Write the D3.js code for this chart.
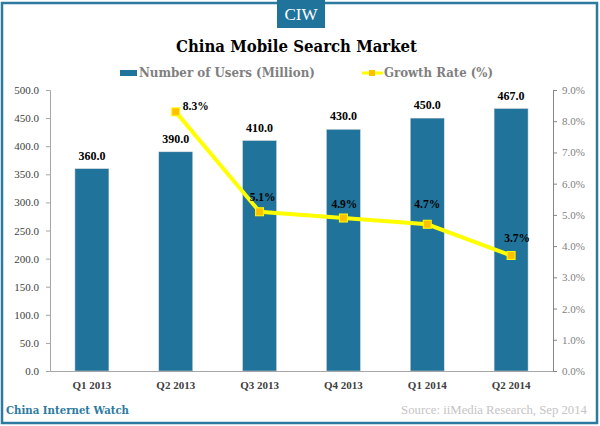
<!DOCTYPE html>
<html>
<head>
<meta charset="utf-8">
<script src="https://cdn.jsdelivr.net/npm/d3@7"></script>
<style>
  body { margin: 0; background: #fff; }
  text { font-family: "Liberation Serif", serif; }
</style>
</head>
<body>
<div id="container"></div>
<script>
/* DATA */
const quarters = ["Q1 2013", "Q2 2013", "Q3 2013", "Q4 2013", "Q1 2014", "Q2 2014"];
const users = [360, 390, 410, 430, 450, 467];
const growth = [null, 8.3, 5.1, 4.9, 4.7, 3.7];
const userTicks = [0, 50, 100, 150, 200, 250, 300, 350, 400, 450, 500];
const growthTicks = [0, 1, 2, 3, 4, 5, 6, 7, 8, 9];

const width = 600, height = 426;
const margin = { top: 90, bottom: 55, left: 50, right: 47 };
const blue = "#20739b", yellow = "#ffff00", marker = "#ffc000";
const serif = '"DejaVu Serif", serif';

const svg = d3.select("#container").append("svg")
  .attr("width", width)
  .attr("height", height)
  .style("display", "block");

// frame
svg.append("rect")
  .attr("x", 2).attr("y", 3)
  .attr("width", 595).attr("height", 420)
  .attr("fill", "#fff")
  .attr("stroke", "#2c7a9f")
  .attr("stroke-width", 2.5);

// CIW badge
svg.append("rect")
  .attr("x", 277).attr("y", 0)
  .attr("width", 48).attr("height", 28)
  .attr("fill", blue);
svg.append("text")
  .attr("x", 301).attr("y", 20)
  .attr("text-anchor", "middle")
  .attr("font-size", 17)
  .attr("fill", "#fff")
  .text("CIW");

// title
svg.append("text")
  .attr("x", 296.5).attr("y", 52)
  .attr("text-anchor", "middle")
  .style("font-family", serif)
  .attr("font-size", 17)
  .attr("font-weight", "bold")
  .attr("textLength", 241)
  .attr("lengthAdjust", "spacingAndGlyphs")
  .attr("fill", "#000")
  .text("China Mobile Search Market");

// SCALES
const xScale = d3.scaleBand()
  .domain(quarters)
  .range([margin.left, width - margin.right])
  .paddingInner(0.595)
  .paddingOuter(0.2975);

const yScale = d3.scaleLinear()
  .domain([0, 500])
  .range([height - margin.bottom, margin.top]);

const growthScale = d3.scaleLinear()
  .domain([0, 9])
  .range([height - margin.bottom, margin.top]);

// AXES
const xAxis = d3.axisBottom(xScale).tickSize(0).tickPadding(10);
const yAxis = d3.axisLeft(yScale)
  .tickValues(userTicks)
  .tickSize(4)
  .tickPadding(7)
  .tickFormat(d3.format(".1f"));
const rightAxis = d3.axisRight(growthScale)
  .tickValues(growthTicks)
  .tickSize(4)
  .tickPadding(5)
  .tickFormat(d => d3.format(".1f")(d) + "%");

const styleAxis = (g, color, lineColor) => {
  g.selectAll("path, line").attr("stroke", lineColor);
  g.selectAll("text").attr("fill", color).attr("font-size", 11)
    .style("font-family", '"Liberation Serif", serif');
};

// BARS
svg.selectAll("rect.bar")
  .data(users)
  .join("rect")
  .attr("class", "bar")
  .attr("x", (d, i) => xScale(quarters[i]))
  .attr("y", d => yScale(d))
  .attr("width", xScale.bandwidth())
  .attr("height", d => yScale(0) - yScale(d))
  .attr("fill", blue)
  .attr("stroke", "#d9d9d9")
  .attr("stroke-width", 0.5);

svg.append("g")
  .attr("transform", `translate(${margin.left},0)`)
  .call(yAxis)
  .call(styleAxis, "#404040", "#a6a6a6");

svg.append("g")
  .attr("transform", `translate(${width - margin.right},0)`)
  .call(rightAxis)
  .call(styleAxis, "#7f7f7f", "#868686");

svg.append("g")
  .attr("transform", `translate(0,${height - margin.bottom})`)
  .call(xAxis)
  .call(styleAxis, "#404040", "#a6a6a6")
  .call(g => g.selectAll("text").attr("font-weight", "bold"));

// BAR LABELS
svg.selectAll("text.bar-label")
  .data(users)
  .join("text")
  .attr("class", "bar-label")
  .attr("x", (d, i) => xScale(quarters[i]) + xScale.bandwidth() / 2)
  .attr("y", d => yScale(d) - 9)
  .attr("text-anchor", "middle")
  .attr("font-size", 12)
  .attr("font-weight", "bold")
  .attr("fill", "#000")
  .text(d => d3.format(".1f")(d));

// GROWTH LINE
const cx = i => xScale(quarters[i]) + xScale.bandwidth() / 2;
const lineGen = d3.line()
  .defined(d => d !== null)
  .x((d, i) => cx(i))
  .y(d => growthScale(d));

svg.append("path")
  .datum(growth)
  .attr("d", lineGen)
  .attr("fill", "none")
  .attr("stroke", yellow)
  .attr("stroke-width", 4);

const points = growth.map((d, i) => ({ d, i })).filter(p => p.d !== null);

svg.selectAll("rect.dot")
  .data(points)
  .join("rect")
  .attr("class", "dot")
  .attr("x", p => cx(p.i) - 4)
  .attr("y", p => growthScale(p.d) - 4)
  .attr("width", 8)
  .attr("height", 8)
  .attr("fill", marker)
  .attr("stroke", yellow)
  .attr("stroke-width", 1);

// label nudges per point, the labels sit by hand in the original
const labelDx = [0, 20, 3, 1, 0, 6];
const labelDy = [0, -2, -11, -10, -16, -13];

svg.selectAll("text.growth-label")
  .data(points)
  .join("text")
  .attr("class", "growth-label")
  .attr("x", p => cx(p.i) + labelDx[p.i])
  .attr("y", p => growthScale(p.d) + labelDy[p.i])
  .attr("text-anchor", "middle")
  .attr("font-size", 11.5)
  .attr("font-weight", "bold")
  .attr("fill", "#000")
  .text(p => d3.format(".1f")(p.d) + "%");

// LEGEND
svg.append("rect")
  .attr("x", 120).attr("y", 70)
  .attr("width", 17).attr("height", 6)
  .attr("fill", blue);
svg.append("text")
  .attr("x", 139).attr("y", 77)
  .style("font-family", serif)
  .attr("font-size", 12)
  .attr("font-weight", "bold")
  .attr("textLength", 176)
  .attr("lengthAdjust", "spacingAndGlyphs")
  .attr("fill", "#7f7f7f")
  .text("Number of Users (Million)");

svg.append("path")
  .attr("d", d3.line()([[362, 73], [383, 73]]))
  .attr("stroke", yellow)
  .attr("stroke-width", 3);
svg.append("rect")
  .attr("x", 369).attr("y", 70)
  .attr("width", 6).attr("height", 6)
  .attr("fill", marker);
svg.append("text")
  .attr("x", 384).attr("y", 77)
  .style("font-family", serif)
  .attr("font-size", 12)
  .attr("font-weight", "bold")
  .attr("textLength", 109)
  .attr("lengthAdjust", "spacingAndGlyphs")
  .attr("fill", "#7f7f7f")
  .text("Growth Rate (%)");

// FOOTER
svg.append("text")
  .attr("x", 6).attr("y", 414)
  .style("font-family", serif)
  .attr("font-size", 11)
  .attr("font-weight", "bold")
  .attr("textLength", 123)
  .attr("lengthAdjust", "spacingAndGlyphs")
  .attr("fill", "#2c7a9f")
  .text("China Internet Watch");

svg.append("text")
  .attr("x", 587).attr("y", 414)
  .attr("text-anchor", "end")
  .attr("font-size", 12.75)
  .attr("fill", "#c4c4c4")
  .text("Source: iiMedia Research, Sep 2014");
</script>
</body>
</html>
